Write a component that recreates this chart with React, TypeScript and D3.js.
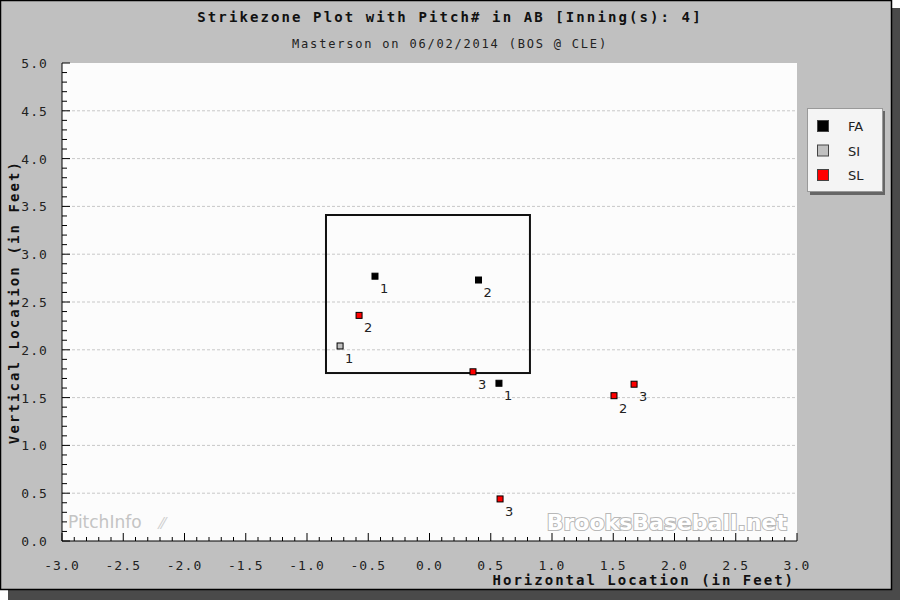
import React from "react";
import * as d3 from "d3";

const pitchX = [-0.445, 0.4, -0.575, -0.73, 0.355, 0.567, 1.506, 1.67, 0.576];
const pitchZ = [2.77, 2.73, 2.36, 2.04, 1.77, 1.65, 1.52, 1.64, 0.44];
const pitchType = ["FA", "FA", "SL", "SI", "SL", "FA", "SL", "SL", "SL"];
const pitchNum = [1, 2, 2, 1, 3, 1, 2, 3, 3];

const legendTypes = ["FA", "SI", "SL"];
const legendColors = ["#000000", "#c0c0c0", "#ff0000"];

const xTicks = [-3.0, -2.5, -2.0, -1.5, -1.0, -0.5, 0.0, 0.5, 1.0, 1.5, 2.0, 2.5, 3.0];
const yTicks = [0.0, 0.5, 1.0, 1.5, 2.0, 2.5, 3.0, 3.5, 4.0, 4.5, 5.0];

const zoneX = [-0.845, 0.82];
const zoneZ = [1.757, 3.41];

const title = "Strikezone Plot with Pitch# in AB [Inning(s): 4]";
const subtitle = "Masterson on 06/02/2014 (BOS @ CLE)";
const xTitle = "Horizontal Location (in Feet)";
const yTitle = "Vertical Location (in Feet)";

export default function App() {
  const W = 900, H = 600;
  const L = 62, R = 797, T = 63, B = 541;
  const x = d3.scaleLinear().domain([-3, 3]).range([L, R]);
  const y = d3.scaleLinear().domain([0, 5]).range([B, T]);
  const color = d3.scaleOrdinal<string, string>().domain(legendTypes).range(legendColors);
  const mono = "'DejaVu Sans Mono', 'Liberation Mono', monospace";

  const minorX = d3.range(-3, 3.0001, 0.1);
  const minorY = d3.range(0, 5.0001, 0.1);

  return (
    <svg width={W} height={H} style={{ position: "absolute", left: 0, top: 0, display: "block" }}>
      {/* shadow + panel */}
      <rect x={8} y={8} width={892} height={592} fill="#4a4a4a" />
      <rect x={0.5} y={0.5} width={891} height={589} fill="#c0c0c0" stroke="#000" strokeWidth={1.5} />

      {/* titles */}
      <text x={450} y={22} textAnchor="middle" fontFamily={mono} fontWeight="bold" fontSize={14} letterSpacing={2.1} fill="#111">{title}</text>
      <text x={450} y={48} textAnchor="middle" fontFamily={mono} fontSize={12} letterSpacing={1.8} fill="#222">{subtitle}</text>

      {/* plot area */}
      <rect x={L} y={T} width={R - L} height={B - T} fill="#fcfcfc" />

      {/* grid */}
      {yTicks.filter((v) => v > 0 && v < 5).map((v) => (
        <line key={"g" + v} x1={L} x2={R} y1={y(v)} y2={y(v)} stroke="#c8c8c8" strokeWidth={1} strokeDasharray="3,2" />
      ))}

      {/* watermarks */}
      <text x={68} y={528} fontFamily="'DejaVu Sans', sans-serif" fontSize={17} fill="#c4c4c4">PitchInfo</text>
      <text x={160} y={529} fontFamily="'DejaVu Sans', sans-serif" fontSize={15} fill="#d0d0d0">⁄⁄</text>
      <text x={787} y={530} textAnchor="end" fontFamily="'DejaVu Sans', sans-serif" fontWeight="bold" fontSize={22} fill="#ffffff" stroke="#b8b8b8" strokeWidth={2} paintOrder="stroke">BrooksBaseball.net</text>

      {/* axes lines */}
      <line x1={L} x2={L} y1={T} y2={B} stroke="#000" strokeWidth={1} />
      <line x1={L} x2={R} y1={B} y2={B} stroke="#000" strokeWidth={1} />

      {/* minor ticks */}
      {minorX.map((v, i) => (
        <line key={"mx" + i} x1={x(v)} x2={x(v)} y1={B} y2={B - (i % 5 === 0 ? 8 : 4)} stroke="#000" strokeWidth={1} />
      ))}
      {minorY.map((v, i) => (
        <line key={"my" + i} x1={L} x2={L + (i % 5 === 0 ? 8 : 5)} y1={y(v)} y2={y(v)} stroke="#000" strokeWidth={1} />
      ))}

      {/* tick labels */}
      {xTicks.map((v) => (
        <text key={"xt" + v} x={x(v)} y={570} textAnchor="middle" fontFamily={mono} fontSize={13} letterSpacing={1.1} fill="#222">{v.toFixed(1)}</text>
      ))}
      {yTicks.map((v) => (
        <text key={"yt" + v} x={48} y={y(v) + 5} textAnchor="end" fontFamily={mono} fontSize={13} letterSpacing={1.1} fill="#222">{v.toFixed(1)}</text>
      ))}

      {/* axis titles */}
      <text x={795} y={585} textAnchor="end" fontFamily={mono} fontWeight="bold" fontSize={14} letterSpacing={2.0} fill="#111">{xTitle}</text>
      <text transform={`translate(19,${302}) rotate(-90)`} textAnchor="middle" fontFamily={mono} fontWeight="bold" fontSize={14} letterSpacing={2.1} fill="#111">{yTitle}</text>

      {/* strike zone */}
      <rect x={x(zoneX[0])} y={y(zoneZ[1])} width={x(zoneX[1]) - x(zoneX[0])} height={y(zoneZ[0]) - y(zoneZ[1])} fill="none" stroke="#111" strokeWidth={2} />

      {/* pitches */}
      {pitchX.map((px, i) => (
        <g key={"p" + i}>
          <rect x={x(px) - 3} y={y(pitchZ[i]) - 3} width={6} height={6} fill={color(pitchType[i])} stroke="#000" strokeWidth={1} />
          <text x={x(px) + 5} y={y(pitchZ[i]) + 17} fontFamily="'DejaVu Sans', sans-serif" fontSize={13} fill="#222">{pitchNum[i]}</text>
        </g>
      ))}

      {/* legend */}
      <rect x={810} y={111} width={75} height={84} fill="#666" />
      <rect x={807.5} y={108.5} width={75} height={83} fill="#f4f4f4" stroke="#999" strokeWidth={1} />
      {legendTypes.map((t, i) => (
        <g key={"l" + t}>
          <rect x={817.5} y={120.5 + i * 24.5} width={11} height={11} fill={legendColors[i]} stroke="#444" strokeWidth={1} />
          <text x={848} y={131 + i * 24.5} fontFamily="'DejaVu Sans', sans-serif" fontSize={13} fill="#222">{t}</text>
        </g>
      ))}
    </svg>
  );
}
